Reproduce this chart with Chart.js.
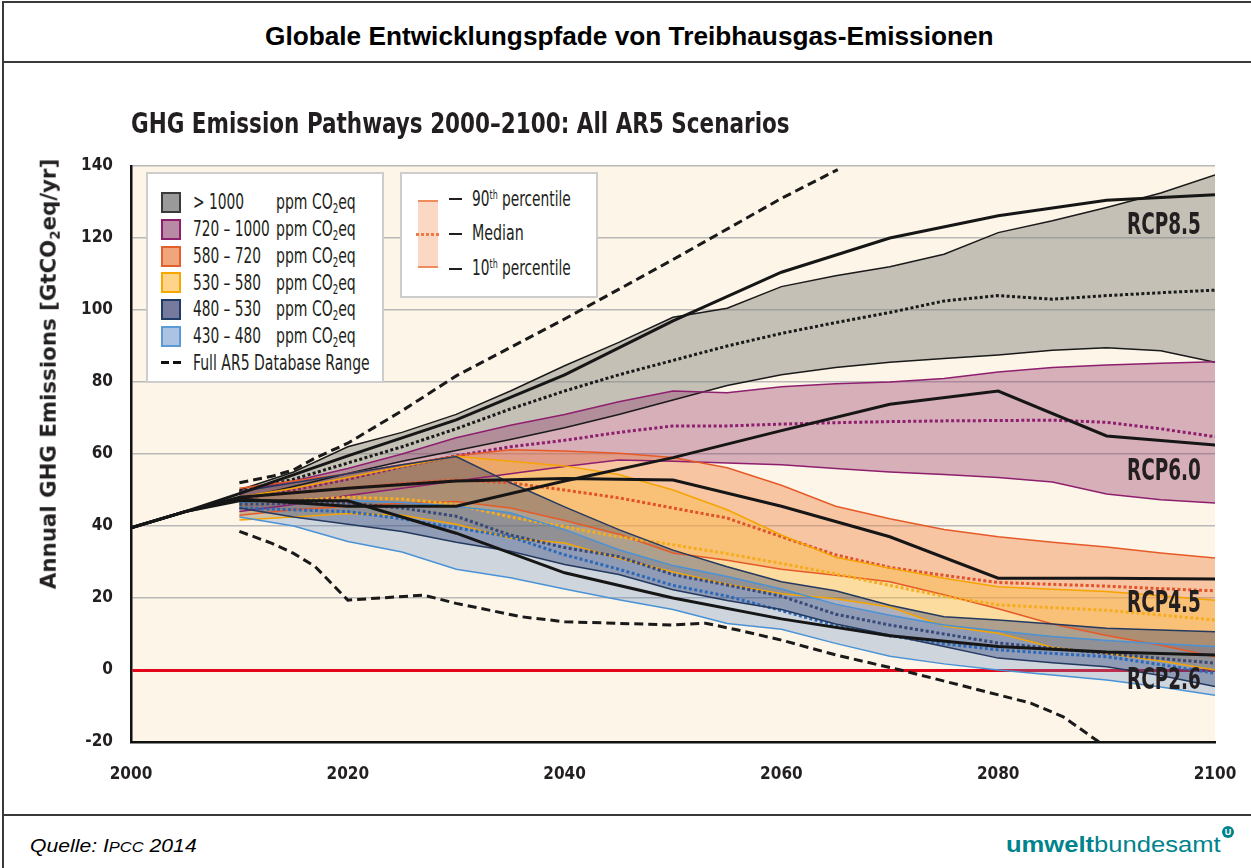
<!DOCTYPE html>
<html><head><meta charset="utf-8">
<script src="https://cdn.jsdelivr.net/npm/chart.js@4.4.1/dist/chart.umd.min.js"></script>
<style>
html,body{margin:0;padding:0;background:#fff;}
#root{position:relative;width:1251px;height:868px;overflow:hidden;background:#fff;font-family:"Liberation Sans",Arial,sans-serif;color:#231f20;}
.abs{position:absolute;white-space:nowrap;line-height:1;}
.ln{position:absolute;background:#3a3a3a;}
#chartWrap{position:absolute;left:0;top:62px;width:1251px;height:753px;}
.cond{font-family:"Liberation Sans Narrow","DejaVu Sans Condensed","Roboto",sans-serif;}
.box{position:absolute;background:#fff;border:2px solid #cdcdcd;box-sizing:border-box;}
.sw{position:absolute;width:20px;height:21px;box-sizing:border-box;border:2px solid;}
sub{font-size:62%;vertical-align:-0.28em;line-height:0;}
sup{font-size:58%;vertical-align:0.55em;line-height:0;}
</style></head>
<body>
<div id="root">
  <div class="ln" style="left:2px;top:1px;width:1249px;height:2px;"></div>
  <div class="ln" style="left:2px;top:1px;width:2px;height:867px;"></div>
  <div class="ln" style="left:2px;top:61px;width:1249px;height:2px;"></div>
  <div class="ln" style="left:2px;top:814px;width:1249px;height:2px;"></div>

  <div class="abs" data-w="729" style="left:265px;top:24px;font-weight:bold;font-size:25px;color:#000;">Globale Entwicklungspfade von Treibhausgas-Emissionen</div>

  <div id="chartWrap"><canvas id="c" width="1251" height="753"></canvas></div>

  <div class="abs cond" data-w="659" style="left:131px;top:109px;font-weight:bold;font-size:29px;">GHG Emission Pathways 2000–2100: All AR5 Scenarios</div>
  <div id="ytitle" class="abs cond" style="font-weight:bold;font-size:22px;">Annual GHG Emissions [GtCO<sub>2</sub>eq/yr]</div>

  <div class="box" style="left:146px;top:172px;width:238px;height:211px;"></div>
  <div class="box" style="left:400px;top:172px;width:198px;height:126px;"></div>
  <div id="leg"></div>

  <div class="abs" data-w="167" style="left:30px;top:837px;font-style:italic;font-size:18px;color:#000;">Quelle: I<span style="font-size:78%">PCC</span> 2014</div>
  <div class="abs" data-w="215" style="left:1006px;top:834px;font-size:22px;color:#00838c;"><b>umwelt</b>bundesamt</div>
  <div class="abs" style="left:1222px;top:826px;width:12px;height:12px;border-radius:6px;background:#00838c;color:#fff;font-size:9px;font-weight:bold;text-align:center;line-height:12px;">U</div>
</div>
<script>
// ---------- data ----------
const bandYears = [2010,2015,2020,2025,2030,2035,2040,2045,2050,2055,2060,2065,2070,2075,2080,2085,2090,2095,2100];

const gt1000Upper  = [50,55,62,66,71,77.5,84.5,91,98,100.5,106.5,109.5,112,115.5,121.5,124.8,128.5,132.5,137.5];
const gt1000Median = [49.5,53,57.5,62,67,72.5,77.5,82,86,90,93.5,96.5,99.3,102.5,104,103,104,104.8,105.5];
const gt1000Lower  = [47.5,51,54.6,58,61,64,67.3,71,75,79,82,84,85.5,86.5,87.5,88.8,89.5,88.7,85.5];

const c720Upper  = [49.5,52.5,56,60,64.5,68,71,74.5,77.5,77,78.7,79.5,80,81,82.8,84,84.7,85.2,85.6];
const c720Median = [47.5,50,53,56.5,59.5,62,63.8,66,67.8,67.8,68.3,68.7,69,69.2,69.3,69.4,68.8,67,64.8];
const c720Lower  = [44,46,48.5,50.5,52.5,54.5,56.5,58.3,58,57.5,57,56,55,54.3,53.5,52.2,48.9,47.3,46.4];

const c580Upper  = [50.5,52.5,54.5,57,59.5,61.2,60.8,60.2,59,56.2,51.3,45.5,42,39,37,35.5,34.2,32.5,31.1];
const c580Median = [48,49.3,50.5,51.8,52.8,52,50,47.8,45,42.2,37,32,28.5,26.3,24.3,23.8,23.3,22.6,22];
const c580Lower  = [43,44.5,45.5,46.3,46.8,45,41.5,37.7,32.5,30.5,28,26.3,24.5,20.9,17,12.8,9.6,6.9,3.7];

const c530Upper  = [48,50.5,53.5,56.5,59.4,58,56.7,54.3,50,44.5,37.5,31.3,28.3,25.5,23.1,22.4,21.8,20.6,19.4];
const c530Median = [46,47,48,47.5,46,42.5,39.8,37,34.8,32.3,29.6,26.7,23.5,20.5,18.1,17.3,16.6,15.3,13.9];
const c530Lower  = [41.7,42.5,43.5,43,40.5,36.6,35.3,31,27.2,23.8,21.2,19.8,17.5,12.2,10.2,6.3,4.6,2.5,0];

const c480Upper  = [49.5,52,54.5,57,59.3,52,45.3,39,33.3,28.7,24.5,22,18,14.8,13.9,12.8,11.6,11.1,10.6];
const c480Median = [46,46.3,46.4,45,42.7,37.5,34,31.5,26.5,23.6,20.5,15.5,12.5,10,7.5,6,4.6,3.2,1.9];
const c480Lower  = [45,42.5,40.5,38.5,35.5,33,29.3,26.5,22.3,19.3,16.8,12.8,9.7,6.5,3.3,2,0.9,-1.5,-4.6];

const c430Upper  = [46.5,47,47,46.5,45.5,43.7,39,33.4,29,26,22.5,18.3,15.2,12.5,10.8,9.3,8.2,7.3,6.5];
const c430Median = [45,44.5,44,42,39.5,37,32,28,23.5,20.5,16.5,12.3,9.5,7.3,5.6,4.6,3.7,1.5,-0.9];
const c430Lower  = [42.5,40,35.7,32.8,28,25.6,22.5,19.5,16.8,12.9,11.3,7.4,3.8,1.7,0,-1.4,-2.8,-4.7,-7];

const rcpYears = [2000,2005,2010,2020,2030,2040,2050,2060,2070,2080,2090,2100];
const rcp85 = [39.5,44,49,59.5,69.5,82,97,110.5,120,126.2,130.5,132];
const rcp60 = [39.5,44,47.5,45.5,45.5,52.5,59,66.5,73.8,77.5,65,62.5];
const rcp45 = [39.5,44,48,50.5,52.5,53.2,52.8,45.5,37,25.5,25.5,25.3];
const rcp26 = [39.5,44,47,47,38,27,20,14.2,9.5,6.5,5,4.2];

const rangeUpperYears = [2010,2013,2015,2017,2020,2025,2030,2040,2050,2060,2065.2];
const rangeUpper      = [52,53.8,55.6,58.9,63,72,81.7,97.5,114,131,139];
const rangeLowerYears = [2010,2013,2015,2017,2020,2023,2027,2030,2036,2040,2050,2053,2056,2060,2065,2071,2077,2083,2086,2089.3];
const rangeLower      = [38.5,35.2,32.4,28.7,19.4,20,20.8,18.5,14.8,13.4,12.5,13,11.1,8.3,4.2,0,-4.6,-9.2,-13,-20];

const rcpNames = ['RCP8.5','RCP6.0','RCP4.5','RCP2.6'];
const legendCats = ['> 1000','720 – 1000','580 – 720','530 – 580','480 – 530','430 – 480'];
const yTickValues = [-20,0,20,40,60,80,100,120,140];
const xTickValues = [2000,2020,2040,2060,2080,2100];

// ---------- build datasets ----------
const xy = (xs, ys) => xs.map((x,i)=>({x, y: ys[i]}));
const datasets = [];
function addBand(up, med, lo, fillCol, edgeCol, medCol, ord){
  const iUp = datasets.length;
  datasets.push({data: xy(bandYears, up), borderColor: edgeCol, borderWidth:1.5, fill: iUp+1, backgroundColor: fillCol, order: ord});
  datasets.push({data: xy(bandYears, lo), borderColor: edgeCol, borderWidth:1.5, fill:false, order: ord});
  datasets.push({data: xy(bandYears, med), borderColor: medCol, borderWidth:3, borderDash:[3,2.4], fill:false, order: ord-1});
}
addBand(gt1000Upper, gt1000Median, gt1000Lower, 'rgba(128,128,124,0.46)', '#1a1a1a', '#1a1a1a', 60);
addBand(c720Upper, c720Median, c720Lower, 'rgba(150,60,110,0.38)', '#8e1f6e', '#8e1f6e', 50);
addBand(c580Upper, c580Median, c580Lower, 'rgba(240,130,70,0.42)', '#e65a28', '#e0532b', 40);
addBand(c530Upper, c530Median, c530Lower, 'rgba(250,185,60,0.42)', '#f5a400', '#f5ad1e', 30);
addBand(c430Upper, c430Median, c430Lower, 'rgba(100,140,200,0.30)', '#4a92d6', '#2c6ab8', 25);
addBand(c480Upper, c480Median, c480Lower, 'rgba(30,50,110,0.35)', '#24395f', '#3a4a78', 20);

datasets.push({data: xy(rangeUpperYears, rangeUpper), borderColor:'#1a1a1a', borderWidth:3, borderDash:[9,5], fill:false, order:5});
datasets.push({data: xy(rangeLowerYears, rangeLower), borderColor:'#1a1a1a', borderWidth:3, borderDash:[9,5], fill:false, order:5});
[rcp85, rcp60, rcp45, rcp26].forEach(r=>{
  datasets.push({data: xy(rcpYears, r), borderColor:'#161616', borderWidth:3, fill:false, order:1});
});

const FONT_C = "'Liberation Sans Narrow','DejaVu Sans Condensed',Roboto,sans-serif";

const bgPlugin = {
  id:'bg',
  beforeDraw(chart){
    const {ctx, chartArea:{left,top,right,bottom}} = chart;
    ctx.save(); ctx.fillStyle = '#fdf5e7'; ctx.fillRect(left, top, right-left, bottom-top); ctx.restore();
  }
};
const rcpLabelPlugin = {
  id:'rcpLabels',
  afterDatasetsDraw(chart){
    const {ctx, scales:{x, y}} = chart;
    const anchors = [124, 55.8, 19, -2.3];
    ctx.save();
    ctx.fillStyle = '#231f20';
    ctx.font = 'bold 30px ' + FONT_C;
    rcpNames.forEach((name, i)=>{
      const px = x.getPixelForValue(2098.7), py = y.getPixelForValue(anchors[i]);
      const w = ctx.measureText(name).width;
      const k = 74 / w;
      ctx.save();
      ctx.translate(px, py + 10.7);
      ctx.scale(k, 1);
      ctx.textAlign = 'right'; ctx.textBaseline = 'alphabetic';
      ctx.fillText(name, 0, 0);
      ctx.restore();
    });
    ctx.restore();
  }
};

new Chart(document.getElementById('c').getContext('2d'), {
  type:'line',
  data:{datasets},
  options:{
    responsive:false, animation:false, devicePixelRatio:1,
    layout:{padding:{left:0, top:104, right:36, bottom:13}},
    elements:{point:{radius:0}, line:{tension:0, borderCapStyle:'butt'}},
    plugins:{legend:{display:false}, tooltip:{enabled:false}, title:{display:false},
      filler:{drawTime:'beforeDatasetsDraw', propagate:false}},
    scales:{
      x:{type:'linear', min:2000, max:2100,
        afterFit(s){ s.height = 60; s.paddingLeft = 0; s.paddingRight = 0; },
        afterBuildTicks(s){ s.ticks = xTickValues.map(v=>({value:v})); },
        ticks:{callback:v=>String(v), font:{family:FONT_C, size:17, weight:'bold'}, color:'#231f20', padding:22, maxRotation:0, autoSkip:false},
        grid:{display:false, drawTicks:false},
        border:{display:true, color:'#111', width:2.5}},
      y:{type:'linear', min:-20, max:140,
        afterFit(s){ s.width = 131; s.paddingTop = 0; s.paddingBottom = 0; },
        afterBuildTicks(s){ s.ticks = yTickValues.map(v=>({value:v})); },
        ticks:{font:{family:FONT_C, size:17, weight:'bold'}, color:'#231f20', padding:18},
        grid:{drawTicks:false,
          color: c => (c.tick && c.tick.value === 0) ? '#e3061b' : '#b9b9b9',
          lineWidth: c => (c.tick && c.tick.value === 0) ? 3 : 1.5},
        border:{display:true, color:'#111', width:2.5}}
    }
  },
  plugins:[bgPlugin, rcpLabelPlugin]
});

// ---------- legends ----------
const leg = document.getElementById('leg');
const rowsY = [202, 229, 256, 282.7, 309.3, 336];
const swFill = ['#9a9a9a','#b98aa3','#f0a57c','#fed48a','#767a9c','#adc3e3'];
const swEdge = ['#3a3a3a','#8e1f6e','#e2602c','#f6a800','#1f3b66','#5b9bd5'];
const catW = [51,77,68,68,68,68];
let html = '';
legendCats.forEach((t,i)=>{
  const cy = rowsY[i];
  html += `<div class="sw" style="left:161px;top:${cy-10.5}px;background:${swFill[i]};border-color:${swEdge[i]};"></div>`;
  html += `<div class="abs cond" data-w="${catW[i]}" style="left:193px;top:${cy-11}px;font-size:22px;">${t}</div>`;
  html += `<div class="abs cond" data-w="80" style="left:276px;top:${cy-11}px;font-size:22px;">ppm CO<sub>2</sub>eq</div>`;
});
html += `<div class="ln" style="left:161px;top:361px;width:8px;height:3px;background:#111;"></div>`;
html += `<div class="ln" style="left:173px;top:361px;width:8px;height:3px;background:#111;"></div>`;
html += `<div class="abs cond" data-w="177" style="left:193px;top:351.7px;font-size:22px;">Full AR5 Database Range</div>`;
// right legend
html += `<div class="ln" style="left:418px;top:201px;width:20px;height:66px;background:#fad8c3;"></div>`;
html += `<div class="ln" style="left:418px;top:200px;width:20px;height:2px;background:#f08c5c;"></div>`;
html += `<div class="ln" style="left:418px;top:266px;width:20px;height:2px;background:#f08c5c;"></div>`;
html += `<div class="ln" style="left:416px;top:233px;width:23px;height:3px;background:repeating-linear-gradient(90deg,#ee7a45 0 3px,transparent 3px 5px);"></div>`;
const pRows = [[199,'90<sup>th</sup> percentile',99],[233.5,'Median',52],[268.5,'10<sup>th</sup> percentile',99]];
pRows.forEach(([cy,t,w])=>{
  html += `<div class="ln" style="left:449px;top:${cy-1}px;width:13px;height:2px;background:#231f20;"></div>`;
  html += `<div class="abs cond" data-w="${w}" style="left:472px;top:${cy-10.5}px;font-size:21px;">${t}</div>`;
});
leg.innerHTML = html;

function fitAll(){
  document.querySelectorAll('[data-w]').forEach(el=>{
    el.style.transform = '';
    const w = el.offsetWidth;
    const k = (+el.dataset.w) / w;
    el.style.transformOrigin = 'left center';
    el.style.transform = 'scaleX(' + k + ')';
  });
  const yt = document.getElementById('ytitle');
  yt.style.transform = '';
  const W = yt.offsetWidth, H = yt.offsetHeight;
  yt.style.left = (48 - W/2) + 'px';
  yt.style.top = (374 - H/2) + 'px';
  yt.style.transformOrigin = 'center center';
  yt.style.transform = 'rotate(-90deg) scaleX(' + (430/W) + ')';
}
fitAll();
if (document.fonts && document.fonts.ready) document.fonts.ready.then(fitAll);
</script>
</body></html>
